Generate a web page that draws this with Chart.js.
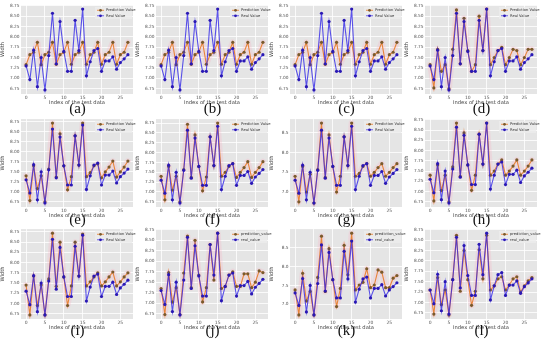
<!DOCTYPE html>
<html>
<head>
<meta charset="utf-8">
<script src="https://cdn.jsdelivr.net/npm/chart.js@4.4.1/dist/chart.umd.min.js"></script>
<style>
  html, body { margin: 0; padding: 0; background: #fff; }
  #wrap { position: relative; width: 550px; height: 340px; overflow: hidden; }
  #wrap canvas { position: absolute; }
  .cap {
    position: absolute; width: 40px; text-align: center;
    font-family: 'Liberation Serif', 'DejaVu Serif', serif; font-size: 15px; color: #111;
  }
</style>
</head>
<body>
<div id="wrap"></div>
<script>
// ── Data ──────────────────────────────────────────────────
const testIndex = [0,1,2,3,4,5,6,7,8,9,10,11,12,13,14,15,16,17,18,19,20,21,22,23,24,25,26,27];

const realValue = [7.30,6.97,7.68,6.80,7.50,6.72,7.55,8.57,7.35,8.37,7.65,7.17,7.17,8.40,7.67,8.67,
                   7.06,7.40,7.67,7.72,7.17,7.42,7.42,7.52,7.22,7.38,7.47,7.57];

const predA = [7.33,7.57,7.63,7.87,7.33,7.57,7.63,7.87,7.34,7.57,7.63,7.87,7.34,7.57,7.63,7.87,
               7.34,7.57,7.63,7.87,7.34,7.57,7.63,7.87,7.34,7.57,7.63,7.87];
const predB = [7.33,7.57,7.63,7.87,7.33,7.57,7.63,7.87,7.34,7.57,7.63,7.87,7.34,7.57,7.63,7.87,
               7.34,7.57,7.63,7.87,7.34,7.57,7.63,7.87,7.34,7.57,7.63,7.87];
const predC = [7.33,7.57,7.63,7.87,7.33,7.57,7.63,7.87,7.34,7.57,7.63,7.87,7.34,7.57,7.63,7.87,
               7.34,7.57,7.63,7.87,7.34,7.57,7.63,7.87,7.34,7.57,7.63,7.87];
const predD = [7.33,6.77,7.70,7.17,7.33,6.75,7.70,8.65,7.35,8.45,7.67,7.17,7.33,8.50,7.67,8.67,
               7.33,7.50,7.67,7.75,7.33,7.50,7.70,7.67,7.33,7.50,7.70,7.70];
const predE = [7.40,6.78,7.65,7.08,7.40,6.75,7.57,8.72,7.37,8.45,7.65,7.05,7.38,8.40,7.67,8.72,
               7.38,7.48,7.65,7.70,7.35,7.50,7.62,7.77,7.37,7.50,7.62,7.77];
const predF = [7.40,6.80,7.65,7.05,7.40,6.75,7.57,8.72,7.37,8.45,7.65,7.03,7.38,8.40,7.67,8.75,
               7.40,7.50,7.65,7.72,7.37,7.50,7.62,7.77,7.37,7.50,7.62,7.77];
const predG = [7.40,6.75,7.65,7.00,7.45,6.72,7.57,8.75,7.37,8.45,7.65,7.00,7.40,8.40,7.67,8.75,
               7.40,7.47,7.65,7.72,7.40,7.50,7.62,7.72,7.40,7.50,7.62,7.72];
const predH = [7.40,6.77,7.65,7.03,7.40,6.75,7.60,8.67,7.37,8.43,7.65,7.03,7.40,8.40,7.67,8.67,
               7.40,7.50,7.67,7.77,7.40,7.50,7.62,7.77,7.40,7.50,7.62,7.77];
const predI = [7.45,6.72,7.67,6.95,7.45,6.72,7.60,8.72,7.42,8.50,7.65,6.95,7.43,8.50,7.67,8.70,
               7.43,7.53,7.65,7.75,7.43,7.53,7.65,7.77,7.43,7.53,7.65,7.75];
const predJ = [7.35,6.73,7.73,7.03,7.37,6.73,7.72,8.60,7.37,8.50,7.67,7.03,7.37,8.40,7.55,8.67,
               7.35,7.40,7.67,7.75,7.40,7.40,7.70,7.70,7.37,7.50,7.77,7.73];
const predK = [7.38,6.72,7.82,7.09,7.34,6.72,7.71,8.80,7.34,8.47,7.65,6.94,7.42,8.56,7.78,8.88,
               7.38,7.51,7.58,7.94,7.44,7.51,7.91,7.85,7.44,7.44,7.69,7.76];
const predL = [7.30,6.72,7.60,6.95,7.30,6.70,7.55,8.62,7.27,8.25,7.55,6.93,7.27,8.27,7.57,8.62,
               7.30,7.40,7.57,7.62,7.30,7.42,7.57,7.62,7.25,7.40,7.52,7.60];

const panelPreds  = [predA,predB,predC,predD,predE,predF,predG,predH,predI,predJ,predK,predL];
const panelLabels = ['(a)','(b)','(c)','(d)','(e)','(f)','(g)','(h)','(i)','(j)','(k)','(l)'];
const yStep       = [0.25,0.25,0.25,0.25,0.25,0.25,0.5,0.25,0.25,0.25,0.5,0.25];
const legendNames = [
  ['Prediction Value','Real Value'],['Prediction Value','Real Value'],['Prediction Value','Real Value'],
  ['Prediction Value','Real Value'],['Prediction Value','Real Value'],['Prediction Value','Real Value'],
  ['Prediction Value','Real Value'],['Prediction Value','Real Value'],['Prediction Value','Real Value'],
  ['prediction_value','real_value'],['prediction_value','real_value'],['prediction_value','real_value']
];

// ── Layout (plot-area edges in page pixels) ───────────────
const colLeft    = [21, 156, 290, 425];
const plotWidth  = 113;
const rowTop     = [3, 117, 227];
const rowBottom  = [94, 207, 319];
const captionMid = [109, 220, 331];

const COLORS = {
  panel:     '#e5e5e5',
  grid:      '#ffffff',
  label:     '#555555',
  predLine:  'rgba(232,128,48,0.95)',
  predPoint: '#7a5a2c',
  realLine:  'rgba(48,36,232,0.78)',
  realPoint: '#2a18b4',
  band:      'rgba(255,170,190,0.22)'
};
const FONT = "'DejaVu Sans', sans-serif";

// grey panel behind the plot, ggplot style
const panelBg = {
  id: 'panelBg',
  beforeDraw(chart) {
    const a = chart.chartArea, c = chart.ctx;
    c.save();
    c.fillStyle = COLORS.panel;
    c.fillRect(a.left, a.top, a.right - a.left, a.bottom - a.top);
    c.restore();
  }
};

// small legend inside the top-right corner
const innerLegend = {
  id: 'innerLegend',
  afterDraw(chart, args, opts) {
    const a = chart.chartArea, c = chart.ctx;
    const x0 = a.right - 38, y0 = a.top + 2;
    c.save();
    c.fillStyle = 'rgba(236,236,236,0.85)';
    c.fillRect(x0, y0, 37, 12);
    const rows = [[COLORS.predLine, COLORS.predPoint], [COLORS.realLine, COLORS.realPoint]];
    c.font = '3.7px ' + FONT;
    c.textBaseline = 'middle';
    rows.forEach((r, i) => {
      const y = y0 + 3.2 + i * 5.5;
      c.strokeStyle = r[0]; c.lineWidth = 0.9;
      c.beginPath(); c.moveTo(x0 + 2, y); c.lineTo(x0 + 9, y); c.stroke();
      c.fillStyle = r[1];
      c.beginPath(); c.arc(x0 + 5.5, y, 1.4, 0, Math.PI * 2); c.fill();
      c.fillStyle = '#333';
      c.fillText(opts.names[i], x0 + 11, y);
    });
    c.restore();
  }
};

const wrap = document.getElementById('wrap');

panelPreds.forEach((pred, p) => {
  const col = p % 4, row = Math.floor(p / 4);
  const left = colLeft[col] - 21;
  const top  = rowTop[row] - 2;
  const w = 21 + plotWidth + 3;
  const h = (rowBottom[row] - rowTop[row]) + 2 + 12 + 1;

  const cv = document.createElement('canvas');
  cv.width = w; cv.height = h;
  cv.style.left = left + 'px'; cv.style.top = top + 'px';
  cv.style.width = w + 'px'; cv.style.height = h + 'px';
  wrap.appendChild(cv);

  const cap = document.createElement('div');
  cap.className = 'cap';
  cap.textContent = panelLabels[p];
  cap.style.left = (colLeft[col] + plotWidth / 2 - 20) + 'px';
  cap.style.top  = (captionMid[row] - 9) + 'px';
  wrap.appendChild(cap);

  const all = pred.concat(realValue);
  const lo = Math.min(...all), hi = Math.max(...all), pad = (hi - lo) * 0.05;
  const predPts = testIndex.map((x, i) => ({ x, y: pred[i] }));
  const realPts = testIndex.map((x, i) => ({ x, y: realValue[i] }));

  new Chart(cv, {
    type: 'line',
    data: {
      datasets: [
        { data: predPts, borderColor: COLORS.band, borderWidth: 6, pointRadius: 0,
          borderJoinStyle: 'round', borderCapStyle: 'round', order: 3 },
        { data: predPts, borderColor: COLORS.predLine, borderWidth: 1.1,
          pointRadius: 1.6, pointBackgroundColor: COLORS.predPoint, pointBorderWidth: 0, order: 2 },
        { data: realPts, borderColor: COLORS.realLine, borderWidth: 1.1,
          pointRadius: 1.6, pointBackgroundColor: COLORS.realPoint, pointBorderWidth: 0, order: 1 }
      ]
    },
    options: {
      responsive: false,
      animation: false,
      devicePixelRatio: 1,
      layout: { padding: { top: 2, right: 3, bottom: 1, left: 0 } },
      plugins: {
        legend: { display: false },
        tooltip: { enabled: false },
        innerLegend: { names: legendNames[p] }
      },
      scales: {
        x: {
          type: 'linear', min: -1.35, max: 28.35,
          grid: { color: COLORS.grid, lineWidth: 0.8, drawTicks: false },
          border: { display: false },
          ticks: { stepSize: 5, includeBounds: false, color: COLORS.label, padding: 1,
                   font: { size: 4.5, family: FONT }, maxRotation: 0 },
          title: { display: true, text: 'Index of the test data', color: '#444',
                   font: { size: 5.2, family: FONT }, padding: 0 },
          afterFit: s => { s.height = 12; }
        },
        y: {
          min: lo - pad, max: hi + pad,
          grid: { color: COLORS.grid, lineWidth: 0.8, drawTicks: false },
          border: { display: false },
          ticks: { stepSize: yStep[p], includeBounds: false, color: COLORS.label, padding: 1.5,
                   font: { size: 4.3, family: FONT },
                   callback: v => yStep[p] === 0.5 ? v.toFixed(1) : v.toFixed(2) },
          title: { display: true, text: 'Width', color: '#444',
                   font: { size: 5.2, family: FONT }, padding: 0 },
          afterFit: s => { s.width = 21; }
        }
      }
    },
    plugins: [panelBg, innerLegend]
  });
});
</script>
</body>
</html>
